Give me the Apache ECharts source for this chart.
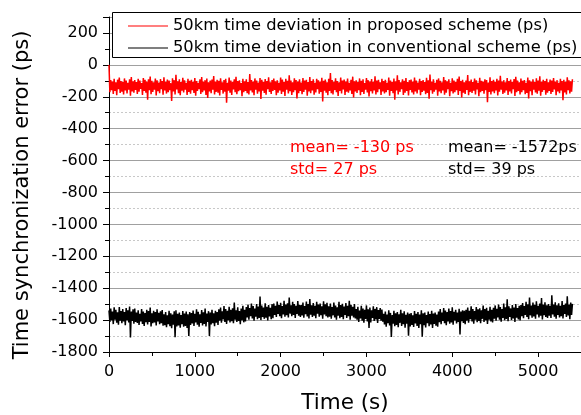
<!DOCTYPE html>
<html>
<head>
<meta charset="utf-8">
<script src="https://cdn.jsdelivr.net/npm/echarts@6/dist/echarts.min.js"></script>
<style>
html,body{margin:0;padding:0;background:#fff;}
#chart{width:581px;height:415px;}
</style>
</head>
<body>
<div id="chart"></div>
<script>
// sampling step of the time axis (s)
const sampleStep = 10;

const seriesNames = [
  '50km time deviation in proposed scheme (ps)',
  '50km time deviation in conventional scheme (ps)'
];

// proposed scheme time deviation (ps) at t = 0, 20, 40, ... s
const proposedEven = [
  0, -96, -104, -88, -110, -93, -79, -101, -107, -85, -98, -112, -90, -76, -103, -95,
  -108, -87, -99, -114, -82, -94, -105, -91, -73, -100, -109, -86, -97, -111, -89, -102,
  -78, -106, -92, -99, -115, -84, -96, -62, -103, -90, -108, -81, -97, -112, -88, -100,
  -94, -107, -83, -101, -113, -90, -77, -104, -96, -86, -110, -99, -92, -70, -105, -93,
  -100, -84, -109, -95, -88, -112, -80, -98, -106, -91, -75, -102, -97, -114, -87, -103,
  -90, -108, -58, -96, -104, -85, -99, -111, -82, -94, -107, -89, -101, -78, -110, -95,
  -86, -103, -97, -113, -80, -92, -106, -88, -100, -66, -98, -109, -84, -95, -105, -91,
  -111, -83, -99, -94, -107, -76, -102, -90, -113, -87, -97, -104, -81, -100, -92, -109,
  -88, -52, -95, -106, -84, -101, -110, -79, -98, -92, -105, -86, -112, -94, -74, -103,
  -97, -108, -85, -100, -91, -114, -82, -96, -104, -89, -107, -72, -99, -93, -110, -87,
  -101, -94, -112, -80, -98, -106, -86, -103, -65, -95, -109, -90, -100, -83, -107, -96,
  -92, -105, -79, -99, -111, -87, -102, -95, -108, -81, -97, -60, -104, -90, -113, -94,
  -85, -100, -109, -77, -96, -103, -91, -112, -84, -99, -106, -88, -73, -101, -94, -110,
  -98, -64, -103, -92, -108, -86, -97, -113, -81, -100, -105, -90, -95, -111, -78, -102,
  -93, -107, -87, -99, -68, -104, -96, -110, -83, -101, -92, -106, -89, -75, -98, -109,
  -86, -100, -95, -113, -80, -97, -104, -91, -108, -84, -99, -71, -106, -94, -102, -88,
  -110, -92, -99, -83, -105, -96, -112, -87, -101, -94, -107, -78, -97, -103, -90
];

// proposed scheme time deviation (ps) at t = 10, 30, 50, ... s
const proposedOdd = [
  -171, -158, -183, -164, -190, -152, -176, -168, -186, -160, -179, -155, -193, -166, -174, -157,
  -182, -169, -151, -188, -163, -175, -219, -159, -184, -170, -156, -192, -165, -178, -153, -187,
  -161, -180, -172, -158, -226, -167, -185, -154, -177, -191, -162, -173, -156, -189, -170, -181,
  -159, -176, -194, -164, -153, -183, -171, -160, -188, -207, -166, -178, -155, -186, -169, -174,
  -192, -157, -180, -168, -237, -162, -175, -189, -154, -171, -184, -165, -158, -196, -172, -163,
  -178, -185, -160, -173, -191, -156, -181, -167, -214, -162, -176, -187, -153, -170, -183, -164,
  -157, -190, -174, -161, -182, -168, -195, -155, -179, -165, -188, -172, -159, -211, -177, -163,
  -184, -170, -156, -193, -166, -178, -160, -187, -173, -152, -181, -169, -229, -162, -175, -190,
  -164, -177, -186, -158, -171, -195, -163, -180, -154, -189, -168, -174, -161, -183, -204, -167,
  -176, -159, -191, -170, -182, -155, -173, -198, -165, -179, -160, -186, -171, -153, -188, -166,
  -180, -172, -157, -194, -163, -177, -218, -161, -185, -169, -152, -189, -175, -164, -192, -158,
  -173, -186, -166, -179, -155, -191, -170, -162, -184, -176, -213, -159, -181, -168, -156, -194,
  -167, -178, -160, -187, -174, -153, -196, -165, -180, -171, -158, -188, -163, -205, -175, -182,
  -157, -190, -169, -176, -162, -185, -154, -197, -172, -164, -181, -159, -234, -170, -186, -166,
  -178, -161, -192, -168, -155, -183, -174, -160, -189, -167, -179, -153, -195, -171, -163, -186,
  -172, -158, -184, -176, -210, -165, -190, -156, -173, -181, -162, -193, -169, -157, -187, -175,
  -163, -182, -170, -154, -191, -166, -177, -160, -221, -173, -185, -158, -180, -168
];

// conventional scheme time deviation (ps) at t = 0, 20, 40, ... s
const conventionalEven = [
  -1540, -1528, -1547, -1520, -1535, -1551, -1518, -1544, -1531, -1549, -1524, -1538, -1515, -1546, -1533, -1527,
  -1552, -1539, -1560, -1530, -1547, -1556, -1535, -1543, -1522, -1558, -1541, -1549, -1533, -1555, -1545, -1537,
  -1563, -1549, -1570, -1541, -1557, -1566, -1545, -1538, -1561, -1552, -1568, -1543, -1559, -1547, -1564, -1550,
  -1556, -1540, -1561, -1532, -1548, -1563, -1537, -1551, -1528, -1559, -1544, -1553, -1535, -1557, -1542, -1549,
  -1533, -1521, -1545, -1512, -1530, -1541, -1517, -1536, -1526, -1490, -1538, -1519, -1543, -1528, -1511, -1535,
  -1518, -1503, -1524, -1496, -1512, -1527, -1499, -1515, -1452, -1509, -1521, -1494, -1516, -1505, -1523, -1500,
  -1497, -1510, -1483, -1505, -1491, -1512, -1479, -1502, -1494, -1458, -1507, -1486, -1499, -1511, -1481, -1504,
  -1505, -1490, -1512, -1484, -1500, -1468, -1508, -1493, -1511, -1486, -1503, -1496, -1513, -1482, -1501, -1492,
  -1514, -1497, -1518, -1490, -1509, -1520, -1485, -1506, -1498, -1515, -1493, -1511, -1479, -1504, -1517, -1500,
  -1531, -1517, -1540, -1511, -1528, -1536, -1508, -1533, -1522, -1539, -1514, -1530, -1519, -1537, -1525, -1534,
  -1560, -1547, -1566, -1538, -1555, -1569, -1542, -1558, -1550, -1564, -1536, -1557, -1545, -1567, -1552, -1561,
  -1556, -1570, -1543, -1561, -1549, -1566, -1539, -1558, -1553, -1568, -1546, -1562, -1541, -1559, -1552, -1565,
  -1547, -1531, -1553, -1524, -1540, -1550, -1527, -1544, -1519, -1548, -1535, -1552, -1529, -1546, -1538, -1542,
  -1536, -1522, -1541, -1514, -1530, -1544, -1518, -1533, -1526, -1539, -1509, -1531, -1523, -1542, -1517, -1535,
  -1523, -1508, -1529, -1502, -1518, -1531, -1496, -1520, -1470, -1514, -1527, -1505, -1521, -1499, -1525, -1511,
  -1506, -1493, -1512, -1485, -1501, -1459, -1509, -1490, -1504, -1482, -1511, -1497, -1462, -1503, -1488, -1508,
  -1499, -1510, -1445, -1502, -1488, -1507, -1494, -1511, -1481, -1505, -1496, -1450, -1503, -1490, -1498
];

// conventional scheme time deviation (ps) at t = 10, 30, 50, ... s
const conventionalOdd = [
  -1612, -1601, -1625, -1598, -1617, -1629, -1604, -1620, -1608, -1632, -1600, -1615, -1709, -1606, -1622, -1611,
  -1618, -1630, -1609, -1624, -1637, -1613, -1627, -1611, -1640, -1620, -1614, -1633, -1608, -1626, -1619, -1635,
  -1632, -1645, -1626, -1638, -1651, -1629, -1708, -1640, -1634, -1647, -1625, -1642, -1636, -1649, -1700, -1631,
  -1621, -1636, -1615, -1629, -1642, -1618, -1633, -1624, -1640, -1612, -1699, -1627, -1620, -1638, -1616, -1631,
  -1603, -1617, -1596, -1611, -1624, -1600, -1615, -1607, -1620, -1598, -1612, -1605, -1626, -1601, -1614, -1609,
  -1583, -1597, -1576, -1590, -1604, -1579, -1594, -1586, -1600, -1581, -1592, -1585, -1603, -1577, -1595, -1588,
  -1568, -1580, -1561, -1575, -1588, -1564, -1578, -1570, -1584, -1559, -1576, -1567, -1586, -1562, -1573, -1581,
  -1571, -1585, -1563, -1577, -1590, -1566, -1581, -1573, -1588, -1560, -1578, -1569, -1592, -1565, -1576, -1583,
  -1578, -1591, -1570, -1584, -1597, -1573, -1588, -1580, -1594, -1567, -1586, -1576, -1598, -1572, -1583, -1590,
  -1598, -1611, -1590, -1604, -1617, -1593, -1608, -1650, -1614, -1587, -1606, -1596, -1618, -1592, -1603, -1610,
  -1628, -1641, -1620, -1634, -1706, -1623, -1638, -1630, -1644, -1617, -1636, -1626, -1648, -1622, -1698, -1640,
  -1630, -1643, -1621, -1636, -1649, -1625, -1704, -1632, -1646, -1619, -1638, -1628, -1650, -1624, -1635, -1642,
  -1613, -1626, -1605, -1619, -1632, -1608, -1623, -1615, -1629, -1602, -1621, -1611, -1690, -1607, -1618, -1625,
  -1603, -1616, -1595, -1609, -1622, -1598, -1613, -1605, -1619, -1592, -1611, -1601, -1624, -1597, -1608, -1615,
  -1591, -1604, -1583, -1597, -1610, -1586, -1601, -1593, -1607, -1580, -1599, -1589, -1612, -1585, -1596, -1603,
  -1575, -1588, -1567, -1581, -1594, -1570, -1585, -1577, -1591, -1564, -1583, -1573, -1596, -1569, -1580, -1587,
  -1573, -1586, -1565, -1579, -1592, -1568, -1583, -1575, -1589, -1562, -1581, -1571, -1594, -1567
];

const annotations = [
  ['mean= -130 ps', 'std= 27 ps'],
  ['mean= -1572ps', 'std= 39 ps']
];

const xTitle = 'Time (s)';
const yTitle = 'Time synchronization error (ps)';

const FONT = 'DejaVu Sans';

// merge the two hand-read sample sets in time order
function merge(even, odd) {
  const out = [];
  for (let i = 0; i < even.length; i++) {
    out.push([i * 2 * sampleStep, even[i]]);
    if (i < odd.length) out.push([(i * 2 + 1) * sampleStep, odd[i]]);
  }
  return out;
}

const chart = echarts.init(document.getElementById('chart'), null, {renderer: 'canvas'});

chart.setOption({
  animation: false,
  backgroundColor: '#fff',
  grid: {left: 109, right: 0, top: 17, bottom: 63, containLabel: false, outerBoundsMode: 'none'},
  legend: {
    orient: 'vertical',
    left: 128,
    top: 15,
    padding: 0,
    itemGap: 0,
    itemWidth: 40,
    itemHeight: 1,
    icon: 'rect',
    z: 10,
    textStyle: {fontFamily: FONT, fontSize: 16.3, color: '#000', lineHeight: 22},
    data: seriesNames
  },
  xAxis: {
    type: 'value',
    min: 0,
    max: 5500,
    interval: 1000,
    axisLine: {show: true, onZero: false, lineStyle: {color: '#000', width: 1}},
    axisTick: {show: true, inside: false, length: 5, lineStyle: {color: '#000'}},
    minorTick: {show: true, splitNumber: 2, length: 4, lineStyle: {color: '#000'}},
    axisLabel: {fontFamily: FONT, fontSize: 16, color: '#000', margin: 12, showMaxLabel: false,
      formatter: v => String(v)},
    splitLine: {show: false}
  },
  yAxis: {
    type: 'value',
    min: -1800,
    max: 300,
    interval: 200,
    axisLine: {show: true, onZero: false, lineStyle: {color: '#000', width: 1}},
    axisTick: {show: true, inside: false, length: 6, lineStyle: {color: '#000'}},
    minorTick: {show: true, splitNumber: 2, length: 4, lineStyle: {color: '#000'}},
    axisLabel: {fontFamily: FONT, fontSize: 16, color: '#000', margin: 11, showMaxLabel: false,
      formatter: v => String(v)},
    splitLine: {show: true, lineStyle: {color: '#a0a0a0', width: 1}},
    minorSplitLine: {show: true, lineStyle: {color: '#c8c8c8', width: 1, type: [2, 2]}}
  },
  graphic: [
    {
      type: 'rect', z: 5,
      shape: {x: 112.5, y: 12.5, width: 480, height: 45},
      style: {fill: '#fff', stroke: '#000', lineWidth: 1}
    },
    {type: 'text', z: 6, x: 23, y: 195, rotation: Math.PI / 2,
      style: {text: yTitle, fill: '#000', fontFamily: FONT, fontSize: 21, align: 'center', verticalAlign: 'middle'}},
    {type: 'text', z: 6, x: 345, y: 403,
      style: {text: xTitle, fill: '#000', fontFamily: FONT, fontSize: 21.5, align: 'center', verticalAlign: 'middle'}},
    {type: 'text', z: 6, style: {text: annotations[0][0], x: 290, y: 148, fill: '#ff0000', fontFamily: FONT, fontSize: 16, verticalAlign: 'middle'}},
    {type: 'text', z: 6, style: {text: annotations[0][1], x: 290, y: 170, fill: '#ff0000', fontFamily: FONT, fontSize: 16, verticalAlign: 'middle'}},
    {type: 'text', z: 6, style: {text: annotations[1][0], x: 448, y: 148, fill: '#000', fontFamily: FONT, fontSize: 16, verticalAlign: 'middle'}},
    {type: 'text', z: 6, style: {text: annotations[1][1], x: 448, y: 170, fill: '#000', fontFamily: FONT, fontSize: 16, verticalAlign: 'middle'}}
  ],
  series: [
    {
      name: seriesNames[0],
      type: 'line',
      data: merge(proposedEven, proposedOdd),
      symbol: 'none',
      showSymbol: false,
      color: '#ff0000',
      lineStyle: {color: '#ff0000', width: 1.5},
      z: 2
    },
    {
      name: seriesNames[1],
      type: 'line',
      data: merge(conventionalEven, conventionalOdd),
      symbol: 'none',
      showSymbol: false,
      color: '#000',
      lineStyle: {color: '#000', width: 1.5},
      z: 2
    }
  ]
});
</script>
</body>
</html>
